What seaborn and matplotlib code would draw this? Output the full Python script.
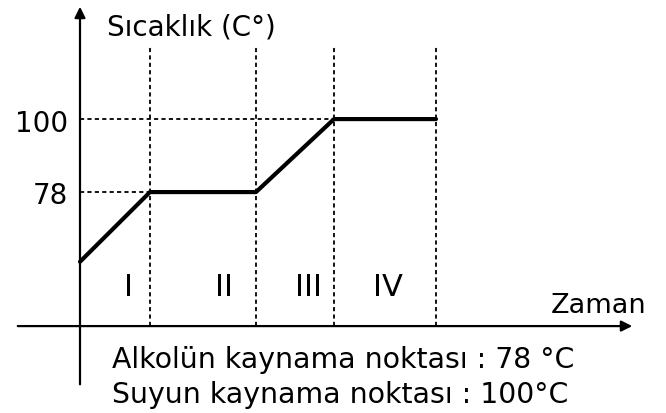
import matplotlib
matplotlib.use("Agg")
import matplotlib.pyplot as plt
import seaborn as sns
import pandas as pd

# zaman (keyfi birim) ve sıcaklık değerleri
zaman = [0, 7, 17.6, 25.4, 35.6]
sicaklik = [57, 78, 78, 100, 100]
bolge_sinirlari = [7, 17.6, 25.4, 35.6]
bolgeler = ["I", "II", "III", "IV"]
bolge_merkez = [4.8, 14.4, 22.8, 30.8]
kaynama = [78, 100]
eksen_alt = 37.6   # x ekseninin kesistigi sicaklik

sns.set_theme(style="white")
plt.rcParams['font.family'] = ['DejaVu Sans']
plt.rcParams['text.color'] = 'black'

fig = plt.figure(figsize=(6.66, 4.14), dpi=100)
ax = fig.add_axes([0, 0, 1, 1])
ax.set_xlim(-8.0, 58.6)
ax.set_ylim(11.4, 136.2)
ax.axis('off')

df = pd.DataFrame({'zaman': zaman, 'sicaklik': sicaklik})
sns.lineplot(data=df, x='zaman', y='sicaklik', ax=ax, color='black',
             linewidth=3.0, sort=False)

# kesikli dikey çizgiler
dash = (0, (2.3, 1.8))
for x in bolge_sinirlari:
    ax.plot([x, x], [eksen_alt, 121.7], color='black', lw=1.3, linestyle=dash)

# kesikli yatay çizgiler
ax.plot([0, bolge_sinirlari[0]], [kaynama[0], kaynama[0]], color='black', lw=1.3, linestyle=dash)
ax.plot([0, bolge_sinirlari[2]], [kaynama[1], kaynama[1]], color='black', lw=1.3, linestyle=dash)

# eksenler
ax.annotate('', xy=(0, 134.7), xytext=(0, 19.2),
            arrowprops=dict(arrowstyle='-|>', color='black', lw=1.6, mutation_scale=16))
ax.annotate('', xy=(55.5, eksen_alt), xytext=(-6.5, eksen_alt),
            arrowprops=dict(arrowstyle='-|>', color='black', lw=1.6, mutation_scale=16))

fs = 20
ax.text(-1.2, 96.4, str(kaynama[1]), ha='right', va='baseline', fontsize=fs, color='black')
ax.text(-1.2, 74.7, str(kaynama[0]), ha='right', va='baseline', fontsize=fs, color='black')

for x, lab in zip(bolge_merkez, bolgeler):
    ax.text(x, 47.0, lab, ha='center', va='baseline', fontsize=22, color='black')

ax.text(2.7, 125.6, 'Sıcaklık (C°)', ha='left', va='baseline', fontsize=fs, color='black')
ax.text(47.1, 41.8, 'Zaman', ha='left', va='baseline', fontsize=19.5, color='black')
ax.text(3.2, 25.3, 'Alkolün kaynama noktası : 78 °C', ha='left', va='baseline',
        fontsize=20.4, color='black')
ax.text(3.2, 14.7, 'Suyun kaynama noktası : 100°C', ha='left', va='baseline',
        fontsize=20.4, color='black')

fig.savefig('out.png', dpi=100)
